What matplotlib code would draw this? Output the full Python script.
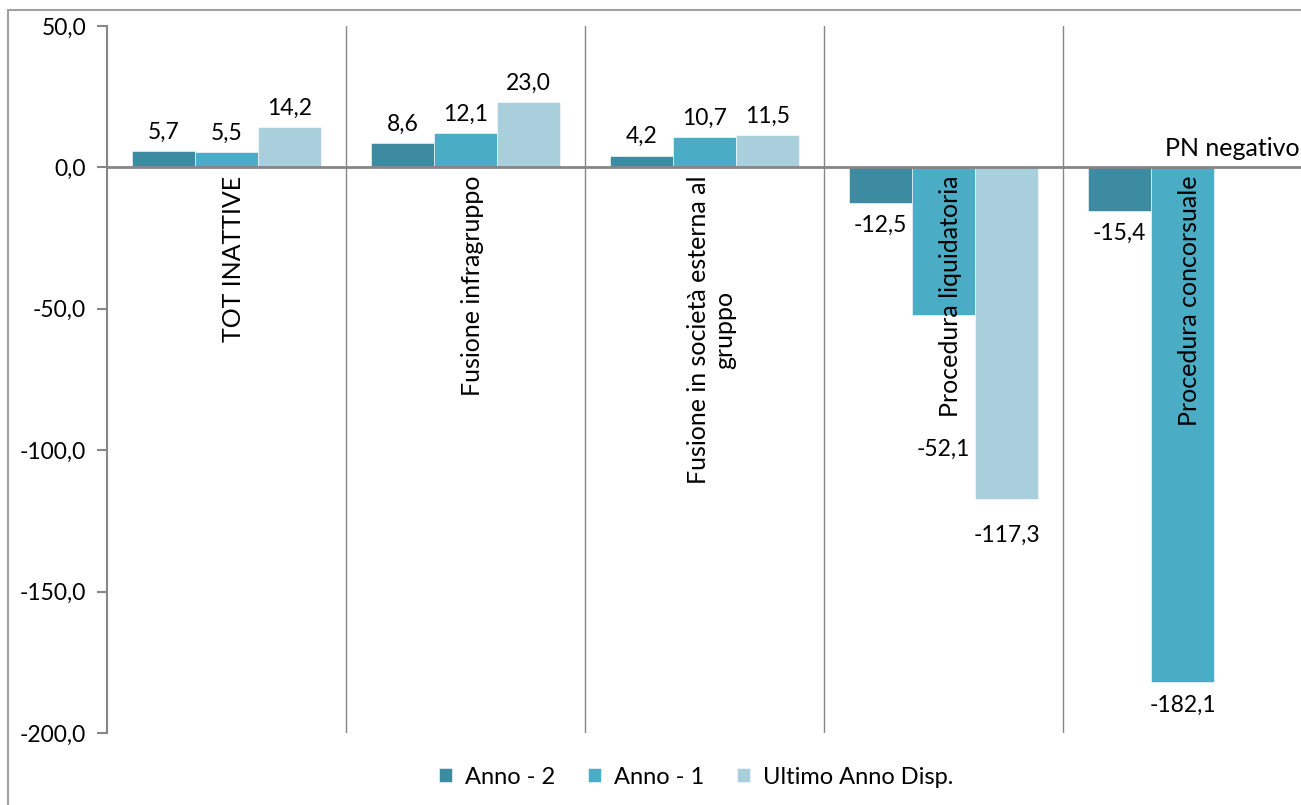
import matplotlib
matplotlib.use("Agg")
import matplotlib.pyplot as plt
from matplotlib.patches import Rectangle
import numpy as np

# dati
categorie = [
    "TOT INATTIVE",
    "Fusione infragruppo",
    "Fusione in società esterna al\ngruppo",
    "Procedura liquidatoria",
    "Procedura concorsuale",
]
serie = ["Anno - 2", "Anno - 1", "Ultimo Anno Disp."]
anno_2 = [5.7, 8.6, 4.2, -12.5, -15.4]
anno_1 = [5.5, 12.1, 10.7, -52.1, -182.1]
ultimo_anno = [14.2, 23.0, 11.5, -117.3, None]
valori = [anno_2, anno_1, ultimo_anno]
colori = ["#3c8ba1", "#4bacc6", "#a9cedc"]
y_ticks = [50, 0, -50, -100, -150, -200]

# spostamenti extra (pixel) per alcune etichette negative
extra_offset = {(1, 3): 112, (2, 3): 14}

plt.rcParams["font.family"] = ["Lato", "DejaVu Sans"]
fs_num = 16.5
fs_txt = 18

fig = plt.figure(figsize=(13.01, 8.05), dpi=100)
ax = fig.add_axes([107 / 1301, 1 - 733 / 805, 1195 / 1301, (733 - 26) / 805])

x = np.arange(len(categorie))
w = 0.264
grigio = "#868686"

for i, (nome, vals, col) in enumerate(zip(serie, valori, colori)):
    xs = [xx + (i - 1) * w for xx, v in zip(x, vals) if v is not None]
    vs = [v for v in vals if v is not None]
    ax.bar(xs, vs, width=w, color=col, label=nome, edgecolor="white", linewidth=0.4, zorder=2)
    for j, v in enumerate(vals):
        if v is None:
            continue
        xb = x[j] + (i - 1) * w
        testo = f"{v:.1f}".replace(".", ",")
        if v >= 0:
            ax.annotate(testo, (xb, v), xytext=(0, 6), textcoords="offset points",
                        ha="center", va="bottom", fontsize=fs_num)
        else:
            off = 12 + extra_offset.get((i, j), 0)
            ax.annotate(testo, (xb, v), xytext=(0, -off * 0.72), textcoords="offset points",
                        ha="center", va="top", fontsize=fs_num)

# etichette di categoria ruotate sotto lo zero
for xx, cat in zip(x, categorie):
    ax.annotate(cat, (xx + 0.03, 0), xytext=(0, -6), textcoords="offset points",
                rotation=90, ha="center", va="top", multialignment="center",
                fontsize=fs_txt, zorder=3)

ax.annotate("PN negativo", (4.49, 0), xytext=(0, 5), textcoords="offset points",
            ha="right", va="bottom", fontsize=fs_txt)

ax.set_xlim(-0.5, 4.5)
ax.set_ylim(-200, 50)
ax.set_yticks(y_ticks)
ax.set_yticklabels([f"{t:.1f}".replace(".", ",") for t in y_ticks], fontsize=fs_num)
ax.set_xticks([])

for xv in [0.5, 1.5, 2.5, 3.5]:
    ax.axvline(xv, color=grigio, linewidth=1, zorder=1)
ax.axhline(0, color=grigio, linewidth=2, zorder=3)

for s in ["top", "right", "bottom"]:
    ax.spines[s].set_visible(False)
ax.spines["left"].set_color(grigio)
ax.spines["left"].set_linewidth(1.5)
ax.tick_params(axis="y", direction="out", length=7, width=1.5, color=grigio, pad=8)

fig.legend(loc="center", bbox_to_anchor=(0.535, 1 - 777 / 805), ncol=3, frameon=False,
           fontsize=17, handlelength=0.55, handleheight=0.55, handletextpad=0.55,
           columnspacing=1.4)

# cornice del grafico
fig.patches.append(Rectangle((8 / 1301, -0.1), 1.2, 1 - 10 / 805 + 0.1,
                             transform=fig.transFigure, fill=False,
                             edgecolor="#a0a0a0", linewidth=1.5))

fig.savefig("out.png", dpi=100)
